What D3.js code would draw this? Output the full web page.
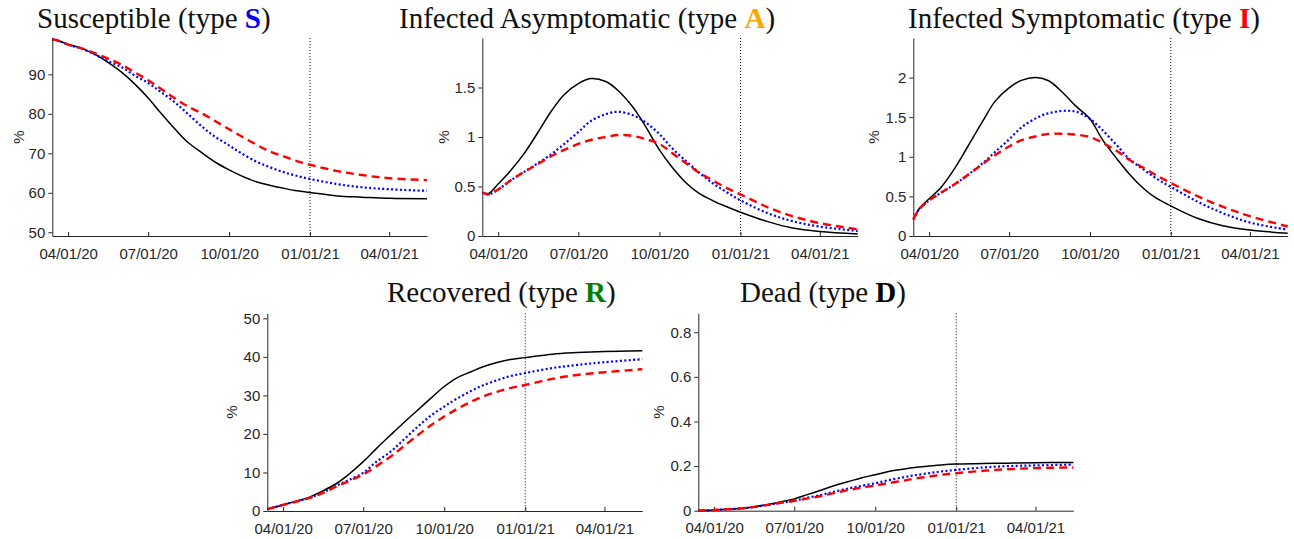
<!DOCTYPE html>
<html>
<head>
<meta charset="utf-8">
<script src="https://cdn.jsdelivr.net/npm/d3@7"></script>
<style>
  body { margin: 0; background: #fff; }
  .tick text { font-family: "Liberation Sans", Arial, sans-serif; font-size: 15px; fill: #262626; }
  .axis path, .axis line { stroke: #262626; }
  .title { font-family: "Liberation Serif", "Times New Roman", serif; font-size: 29px; fill: #111; }
  .ylab { font-family: "Liberation Sans", Arial, sans-serif; font-size: 15px; fill: #262626; }
</style>
</head>
<body>
<svg id="chart" width="1294" height="539"></svg>
<script>
// sample dates (same for every panel)
const dates = ["2020-03-14","2020-03-21","2020-04-01","2020-04-15","2020-05-01","2020-05-15",
  "2020-06-01","2020-06-15","2020-07-01","2020-07-15","2020-08-01","2020-08-15","2020-09-01",
  "2020-09-15","2020-10-01","2020-10-15","2020-11-01","2020-11-15","2020-12-01","2020-12-15",
  "2021-01-01","2021-02-01","2021-03-01","2021-04-01","2021-05-14"]

const xTicks = ["2020-04-01","2020-07-01","2020-10-01","2021-01-01","2021-04-01"]
const markerDate = "2021-01-01"

// Susceptible
const sBlack = [98.9,98.5,97.6,96.7,95.1,93.2,90.5,87.7,84.0,80.3,76.0,72.8,70.0,67.8,65.8,64.3,62.8,62.0,61.2,60.6,60.1,59.2,58.9,58.6,58.5]
const sBlue  = [98.9,98.5,97.5,96.6,95.1,93.5,91.8,89.8,87.8,85.6,82.8,80.0,76.6,74.2,72.0,70.0,67.9,66.6,65.3,64.4,63.5,62.2,61.4,60.9,60.5]
const sRed   = [98.9,98.5,97.5,96.7,95.4,94.1,92.4,90.6,88.5,86.4,83.8,81.9,80.0,78.2,76.1,74.3,72.2,70.6,69.3,68.2,67.1,65.5,64.5,63.7,63.2]

// Infected asymptomatic
const aBlack = [0.44,0.43,0.525,0.66,0.84,1.03,1.27,1.43,1.54,1.59,1.56,1.47,1.30,1.11,0.87,0.70,0.53,0.43,0.355,0.30,0.24,0.145,0.08,0.045,0.02]
const aBlue  = [0.44,0.42,0.47,0.56,0.65,0.73,0.83,0.93,1.05,1.16,1.23,1.255,1.22,1.15,1.03,0.89,0.75,0.64,0.53,0.45,0.36,0.23,0.15,0.095,0.05]
const aRed   = [0.44,0.42,0.47,0.56,0.65,0.72,0.81,0.87,0.93,0.97,1.0,1.02,1.01,0.98,0.93,0.84,0.73,0.64,0.56,0.49,0.42,0.29,0.20,0.13,0.067]

// Infected symptomatic
const iBlack = [0.21,0.35,0.47,0.62,0.87,1.13,1.45,1.70,1.87,1.965,2.0,1.96,1.80,1.64,1.48,1.22,0.97,0.78,0.60,0.48,0.38,0.22,0.13,0.076,0.035]
const iBlue  = [0.21,0.34,0.45,0.55,0.66,0.77,0.92,1.06,1.22,1.37,1.49,1.55,1.58,1.57,1.48,1.34,1.14,0.97,0.84,0.73,0.62,0.43,0.29,0.17,0.08]
const iRed   = [0.21,0.34,0.45,0.55,0.66,0.77,0.91,1.02,1.13,1.21,1.26,1.29,1.29,1.28,1.25,1.18,1.07,0.96,0.86,0.77,0.67,0.50,0.37,0.25,0.12]

// Recovered
const rBlack = [0.5,0.9,1.6,2.5,3.6,5.1,7.2,9.6,12.8,16.0,19.7,22.7,26.2,29.1,32.3,34.5,36.2,37.5,38.6,39.3,39.8,40.7,41.1,41.4,41.6]
const rBlue  = [0.5,0.9,1.6,2.4,3.4,4.7,6.6,8.1,9.9,12.6,15.4,18.3,21.9,24.6,27.1,29.1,31.2,32.7,34.0,35.0,35.8,37.1,37.9,38.6,39.4]
const rRed   = [0.5,0.9,1.6,2.4,3.4,4.6,6.4,7.8,9.5,11.5,14.1,16.6,19.7,22.1,24.5,26.4,28.4,29.8,31.0,31.9,32.7,34.3,35.3,36.0,36.8]

// Dead
const dBlack = [0,0.001,0.003,0.006,0.01,0.017,0.028,0.039,0.053,0.071,0.093,0.112,0.131,0.147,0.161,0.175,0.186,0.194,0.200,0.205,0.209,0.212,0.213,0.215,0.216]
const dBlue  = [0,0.001,0.003,0.006,0.01,0.016,0.026,0.035,0.045,0.057,0.071,0.085,0.100,0.111,0.123,0.136,0.149,0.159,0.168,0.176,0.183,0.194,0.200,0.203,0.207]
const dRed   = [0,0.001,0.003,0.006,0.01,0.016,0.026,0.035,0.044,0.054,0.066,0.079,0.093,0.103,0.113,0.123,0.134,0.144,0.153,0.161,0.168,0.179,0.186,0.191,0.194]

const parse = d3.timeParse("%Y-%m-%d")
const dateObjs = dates.map(parse)

var panels = [
  {name: "Susceptible", letter: "S", color: "#0000ff", series: [sBlack, sBlue, sRed],
   yDomain: [49.06, 99.2], yTicks: [50,60,70,80,90],
   box: {left: 52.3, top: 38, width: 374.7, height: 198}, titleX: 37, titleY: 28, labOff: 34},
  {name: "Infected Asymptomatic", letter: "A", color: "#ffa500", series: [aBlack, aBlue, aRed],
   yDomain: [0, 2], yTicks: [0,0.5,1,1.5],
   box: {left: 482.3, top: 38, width: 375.4, height: 198}, titleX: 399, titleY: 28, labOff: 39},
  {name: "Infected Symptomatic", letter: "I", color: "#ff0000", series: [iBlack, iBlue, iRed],
   yDomain: [0, 2.5], yTicks: [0,0.5,1,1.5,2],
   box: {left: 913.3, top: 38, width: 374.4, height: 198}, titleX: 908, titleY: 28, labOff: 40},
  {name: "Recovered", letter: "R", color: "#008000", series: [rBlack, rBlue, rRed],
   yDomain: [0, 51.3], yTicks: [0,10,20,30,40,50],
   box: {left: 267.3, top: 313.3, width: 375, height: 197.7}, titleX: 387, titleY: 302, labOff: 36},
  {name: "Dead", letter: "D", color: "#000000", series: [dBlack, dBlue, dRed],
   yDomain: [0, 0.885], yTicks: [0,0.2,0.4,0.6,0.8],
   box: {left: 698.3, top: 313.3, width: 375, height: 197.4}, titleX: 740, titleY: 302, labOff: 40}
]

var styles = [
  {stroke: "#000000", width: 1.5, dash: null},
  {stroke: "#0000ff", width: 2.2, dash: "2,2.4"},
  {stroke: "#ff0000", width: 2.4, dash: "8,5"}
]

var svg = d3.select("#chart")

panels.forEach(function(p){
  var b = p.box
  var g = svg.append("g").attr("transform", "translate(" + b.left + "," + b.top + ")")

  var x = d3.scaleTime()
    .domain([dateObjs[0], dateObjs[dateObjs.length-1]])
    .range([0, b.width])
  var y = d3.scaleLinear().domain(p.yDomain).range([b.height, 0])

  // dotted marker line at 01/01/21
  g.append("line")
    .attr("x1", x(parse(markerDate))).attr("x2", x(parse(markerDate)))
    .attr("y1", 0).attr("y2", b.height)
    .attr("stroke", "#000").attr("stroke-width", 1)
    .attr("stroke-dasharray", "1,2")

  var xAxis = d3.axisBottom(x)
    .tickValues(xTicks.map(parse))
    .tickFormat(d3.timeFormat("%m/%d/%y"))
    .tickSizeInner(-4).tickSizeOuter(0).tickPadding(12)
  var yAxis = d3.axisLeft(y)
    .tickValues(p.yTicks)
    .tickFormat(d3.format("~g"))
    .tickSizeInner(4).tickSizeOuter(0).tickPadding(3)

  g.append("g").attr("class", "axis")
    .attr("transform", "translate(0," + b.height + ")")
    .call(xAxis)
  g.append("g").attr("class", "axis").call(yAxis)
  g.selectAll(".axis .domain").attr("stroke-width", 1)

  var line = d3.line()
    .x(function(d, i){ return x(dateObjs[i]) })
    .y(function(d){ return y(d) })
    .curve(d3.curveCatmullRom.alpha(0.5))

  p.series.forEach(function(s, k){
    var st = styles[k]
    g.append("path")
      .datum(s)
      .attr("d", line)
      .attr("fill", "none")
      .attr("stroke", st.stroke)
      .attr("stroke-width", st.width)
      .attr("stroke-dasharray", st.dash)
  })

  // y label
  g.append("text")
    .attr("class", "ylab")
    .attr("transform", "translate(" + (-p.labOff) + "," + (b.height/2) + ") rotate(-90)")
    .attr("text-anchor", "middle")
    .attr("dy", "0.35em")
    .text("%")

  // title
  var t = svg.append("text").attr("class", "title")
    .attr("x", p.titleX).attr("y", p.titleY)
  t.append("tspan").text(p.name + " (type ")
  t.append("tspan").attr("font-weight", "bold").style("fill", p.color).text(p.letter)
  t.append("tspan").text(")")
})
</script>
</body>
</html>
